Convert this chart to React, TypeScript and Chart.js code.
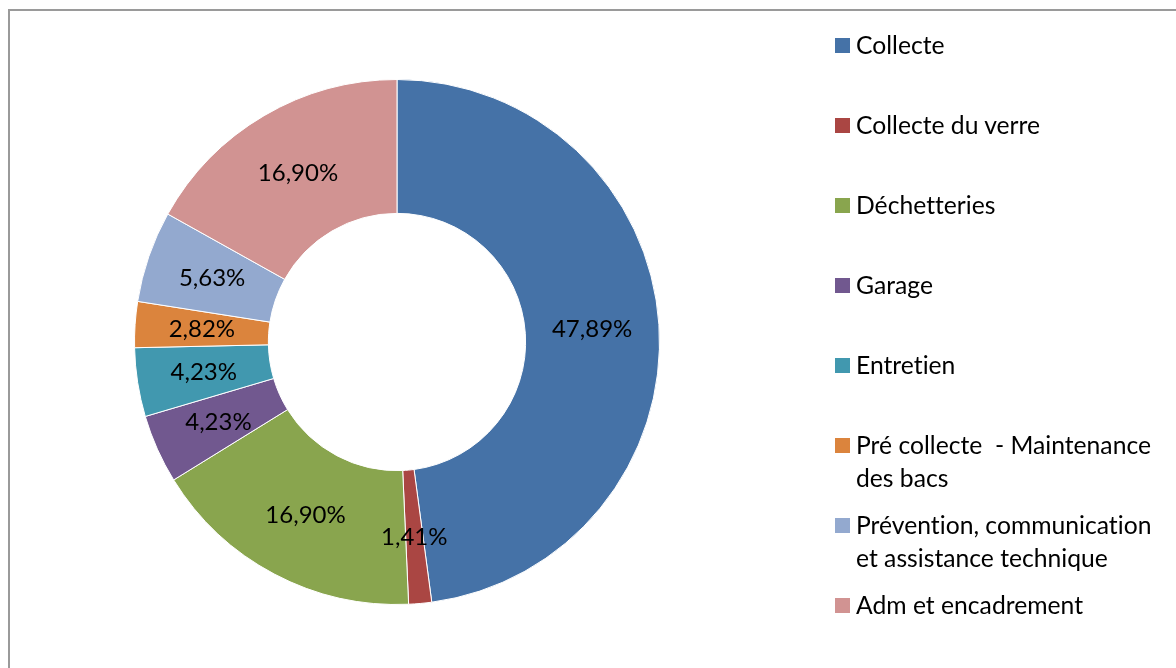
import React, { useEffect, useRef } from "react";
import { Chart, registerables } from "chart.js";

Chart.register(...registerables);

const categories: string[][] = [
  ["Collecte"],
  ["Collecte du verre"],
  ["Déchetteries"],
  ["Garage"],
  ["Entretien"],
  ["Pré collecte  - Maintenance", "des bacs"],
  ["Prévention, communication", "et assistance technique"],
  ["Adm et encadrement"],
];
const percentages: number[] = [47.89, 1.41, 16.9, 4.23, 4.23, 2.82, 5.63, 16.9];
const colors: string[] = [
  "#4572A7",
  "#AA4643",
  "#89A54E",
  "#71588F",
  "#4198AF",
  "#DB843D",
  "#93A9CF",
  "#D19392",
];

const FONT = "Lato, 'Open Sans', sans-serif";

const labelPlugin = {
  id: "pctLabels",
  afterDatasetsDraw(chart: any) {
    const ctx = chart.ctx;
    const meta = chart.getDatasetMeta(0);
    ctx.save();
    ctx.fillStyle = "#000";
    ctx.font = `24px ${FONT}`;
    ctx.textAlign = "center";
    ctx.textBaseline = "middle";
    meta.data.forEach((arc: any, i: number) => {
      const p = arc.tooltipPosition();
      const v = percentages[i].toFixed(2).replace(".", ",") + "%";
      ctx.fillText(v, p.x, p.y);
    });
    ctx.restore();
  },
};

export default function App() {
  const ref = useRef<HTMLCanvasElement>(null);
  useEffect(() => {
    if (!ref.current) return;
    const chart = new Chart(ref.current, {
      type: "doughnut",
      data: {
        labels: categories.map((c) => c.join(" ")),
        datasets: [
          {
            data: percentages,
            backgroundColor: colors,
            borderColor: "#ffffff",
            borderWidth: 1,
          },
        ],
      },
      options: {
        responsive: false,
        animation: false,
        cutout: "49%",
        layout: { padding: 0 },
        plugins: {
          legend: { display: false },
          tooltip: { enabled: false },
        },
      },
      plugins: [labelPlugin],
    });
    return () => chart.destroy();
  }, []);

  return (
    <div style={{ position: "relative", width: 1160, height: 652, fontFamily: FONT }}>
      <div
        style={{
          position: "fixed",
          left: 8,
          top: 9,
          width: 1300,
          height: 800,
          borderLeft: "2px solid #9a9a9a",
          borderTop: "2px solid #9a9a9a",
          pointerEvents: "none",
        }}
      />
      <canvas
        ref={ref}
        width={526}
        height={526}
        style={{ position: "absolute", left: 126, top: 71, width: 526, height: 526 }}
      />
      <div style={{ position: "absolute", left: 827, top: 20 }}>
        {categories.map((c, i) => (
          <div key={i} style={{ height: 80, display: "flex", alignItems: "flex-start" }}>
            <div
              style={{
                width: 15,
                height: 15,
                background: colors[i],
                marginTop: 10,
                marginRight: 6,
                flex: "none",
              }}
            />
            <div
              style={{
                fontSize: 24.7,
                lineHeight: "33px",
                color: "#000",
                whiteSpace: "pre",
                fontVariantLigatures: "none",
              }}
            >
              {c.join("\n")}
            </div>
          </div>
        ))}
      </div>
    </div>
  );
}
